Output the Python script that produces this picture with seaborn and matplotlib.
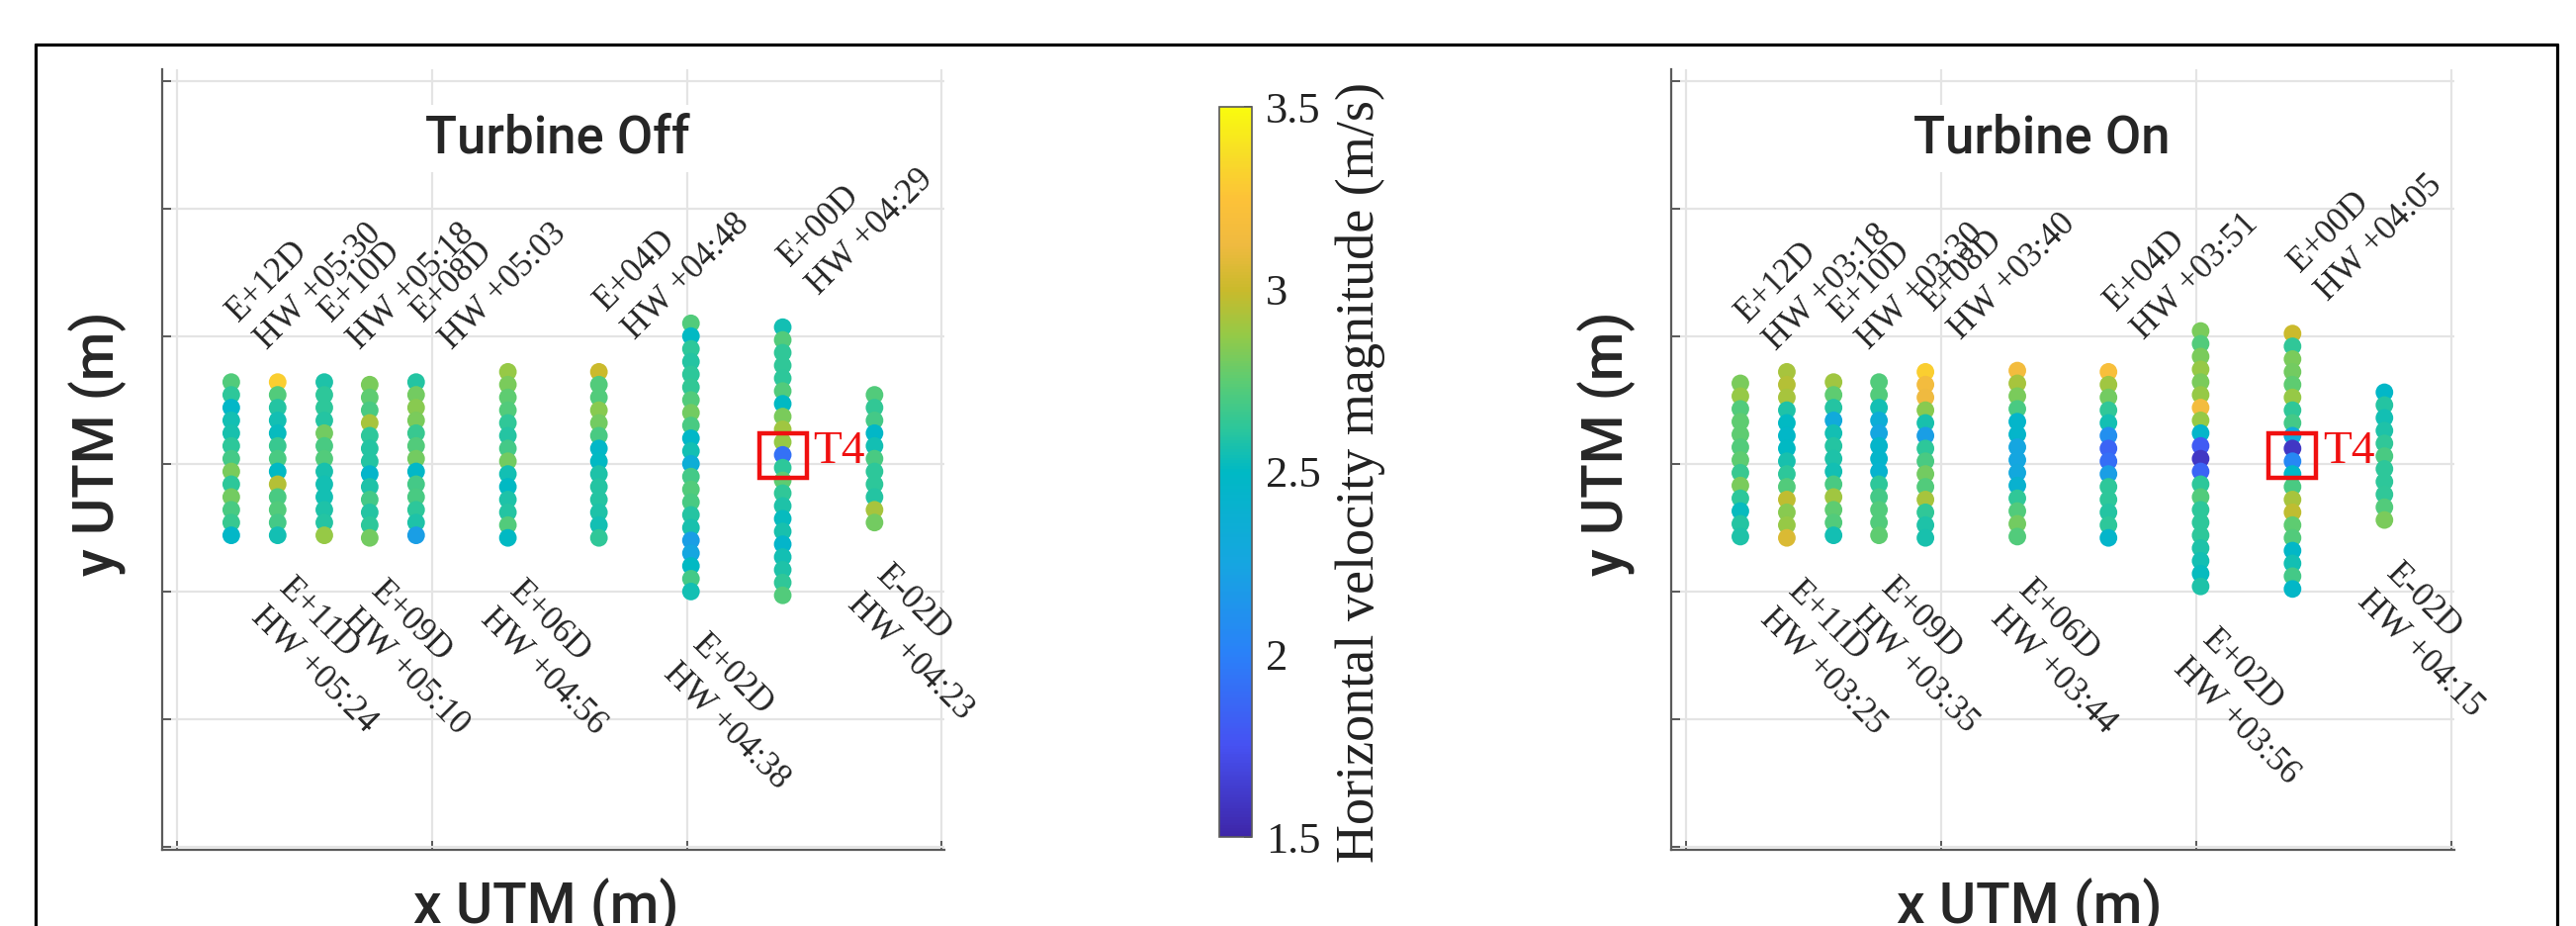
import numpy as np
import pandas as pd
import matplotlib
matplotlib.use("Agg")
import matplotlib.pyplot as plt
import seaborn as sns
from matplotlib.colors import LinearSegmentedColormap, Normalize
from matplotlib.cm import ScalarMappable
from matplotlib.lines import Line2D
from matplotlib.patches import Rectangle

# ---------------- data ----------------
transects = ["E+12D", "E+11D", "E+10D", "E+09D", "E+08D",
             "E+06D", "E+04D", "E+02D", "E+00D", "E-02D"]
x_utm = [21.3, 39.5, 57.8, 75.6, 93.8, 129.8, 165.5, 201.6, 237.6, 273.6]
label_above = [True, False, True, False, True, False, True, False, True, False]

off_times = ["HW +05:30", "HW +05:24", "HW +05:18", "HW +05:10", "HW +05:03",
             "HW +04:56", "HW +04:48", "HW +04:38", "HW +04:29", "HW +04:23"]
on_times = ["HW +03:18", "HW +03:25", "HW +03:30", "HW +03:35", "HW +03:40",
            "HW +03:44", "HW +03:51", "HW +03:56", "HW +04:05", "HW +04:15"]

# y UTM of each sample (top to bottom), turbine off
off_y = [
    [364, 354, 344, 334, 324, 314, 304, 294, 284, 274, 264, 254, 244],
    [364, 354, 344, 334, 324, 314, 304, 294, 284, 274, 264, 254, 244],
    [364, 354, 344, 334, 324, 314, 304, 294, 284, 274, 264, 254, 244],
    [362, 352, 342, 332, 322, 312, 302, 292, 282, 272, 262, 252, 242],
    [364, 354, 344, 334, 324, 314, 304, 294, 284, 274, 264, 254, 244],
    [372, 362, 352, 342, 332, 322, 312, 302, 292, 282, 272, 262, 252, 242],
    [372, 362, 352, 342, 332, 322, 312, 302, 292, 282, 272, 262, 252, 242],
    [410, 400, 390, 380, 370, 360, 350, 340, 330, 320, 310, 300, 290, 280, 270,
     260, 250, 240, 230, 220, 210, 200],
    [407, 397, 387, 377, 367, 357, 347, 337, 327, 317, 307, 297, 287, 277, 267,
     257, 247, 237, 227, 217, 207, 197],
    [354, 344, 334, 324, 314, 304, 294, 284, 274, 264, 254],
]
off_speed = [
    [2.72, 2.62, 2.47, 2.55, 2.57, 2.62, 2.68, 2.82, 2.62, 2.80, 2.70, 2.65, 2.48],
    [3.30, 2.72, 2.60, 2.55, 2.52, 2.65, 2.70, 2.50, 2.95, 2.70, 2.72, 2.68, 2.55],
    [2.58, 2.62, 2.62, 2.60, 2.80, 2.70, 2.72, 2.57, 2.55, 2.55, 2.58, 2.60, 2.88],
    [2.82, 2.75, 2.70, 2.92, 2.62, 2.60, 2.60, 2.45, 2.58, 2.68, 2.60, 2.62, 2.80],
    [2.60, 2.80, 2.85, 2.82, 2.65, 2.72, 2.80, 2.48, 2.68, 2.70, 2.62, 2.58, 2.20],
    [2.88, 2.82, 2.75, 2.72, 2.63, 2.60, 2.68, 2.80, 2.55, 2.50, 2.58, 2.60, 2.72, 2.50],
    [3.00, 2.72, 2.72, 2.85, 2.80, 2.70, 2.48, 2.50, 2.58, 2.60, 2.60, 2.58, 2.55, 2.63],
    [2.72, 2.50, 2.62, 2.60, 2.62, 2.64, 2.72, 2.80, 2.70, 2.48, 2.55, 2.35, 2.68, 2.72,
     2.70, 2.60, 2.57, 2.20, 2.25, 2.50, 2.68, 2.55],
    [2.55, 2.72, 2.63, 2.63, 2.62, 2.72, 2.50, 2.82, 2.90, 2.88, 1.92, 2.62, 2.75, 2.63,
     2.58, 2.52, 2.57, 2.45, 2.55, 2.58, 2.63, 2.72],
    [2.72, 2.64, 2.68, 2.48, 2.55, 2.70, 2.62, 2.62, 2.60, 2.92, 2.80],
]

# turbine on
on_y = [
    [363, 353, 343, 333, 323, 313, 303, 293, 283, 273, 263, 253, 243],
    [372, 362, 352, 342, 332, 322, 312, 302, 292, 282, 272, 262, 252, 242],
    [364, 354, 344, 334, 324, 314, 304, 294, 284, 274, 264, 254, 244],
    [364, 354, 344, 334, 324, 314, 304, 294, 284, 274, 264, 254, 244],
    [372, 362, 352, 342, 332, 322, 312, 302, 292, 282, 272, 262, 252, 242],
    [373, 363, 353, 343, 333, 323, 313, 303, 293, 283, 273, 263, 253, 243],
    [372, 362, 352, 342, 332, 322, 312, 302, 292, 282, 272, 262, 252, 242],
    [404, 394, 384, 374, 364, 354, 344, 334, 324, 314, 304, 294, 284, 274, 264,
     254, 244, 234, 224, 214, 204],
    [402, 392, 382, 372, 362, 352, 342, 332, 322, 312, 302, 292, 282, 272, 262,
     252, 242, 232, 222, 212, 202],
    [356, 346, 336, 326, 316, 306, 296, 286, 276, 266, 256],
]
on_speed = [
    [2.82, 2.88, 2.72, 2.75, 2.75, 2.72, 2.75, 2.65, 2.82, 2.62, 2.52, 2.60, 2.58],
    [2.92, 2.95, 2.92, 2.58, 2.50, 2.48, 2.50, 2.57, 2.62, 2.72, 2.97, 2.85, 2.88, 3.05],
    [2.90, 2.75, 2.60, 2.30, 2.55, 2.60, 2.58, 2.55, 2.70, 2.90, 2.75, 2.72, 2.55],
    [2.72, 2.72, 2.55, 2.35, 2.25, 2.45, 2.45, 2.42, 2.62, 2.68, 2.72, 2.72, 2.75],
    [3.30, 3.15, 3.12, 2.85, 2.57, 2.20, 2.62, 2.70, 2.80, 2.72, 2.92, 2.63, 2.58, 2.57],
    [3.15, 2.92, 2.82, 2.70, 2.45, 2.45, 2.25, 2.25, 2.28, 2.40, 2.63, 2.72, 2.80, 2.72],
    [3.20, 2.90, 2.80, 2.63, 2.55, 2.10, 1.85, 1.90, 2.20, 2.62, 2.62, 2.60, 2.62, 2.45],
    [2.82, 2.72, 2.82, 2.88, 2.82, 2.88, 3.15, 2.88, 2.45, 1.80, 1.60, 1.85, 2.62, 2.72,
     2.62, 2.62, 2.62, 2.58, 2.55, 2.52, 2.58],
    [3.00, 2.63, 2.82, 2.80, 2.75, 2.88, 2.63, 2.68, 2.30, 1.60, 2.05, 2.48, 2.70, 2.92,
     2.97, 2.75, 2.72, 2.48, 2.55, 2.68, 2.48],
    [2.47, 2.60, 2.55, 2.58, 2.63, 2.70, 2.62, 2.62, 2.63, 2.72, 2.82],
]

turbine_name = "T4"
turbine_x = 237.6
turbine_y = 306.5
turbine_box = (18.6, 35.0)

x_ticks = [0, 100, 200, 300]
y_ticks = [0, 100, 200, 300, 400, 500, 600]
cbar_ticks = [1.5, 2.0, 2.5, 3.0, 3.5]
cbar_ticklabels = ["1.5", "2", "2.5", "3", "3.5"]
vmin, vmax = 1.5, 3.5

# parula-like colormap
parula_pts = [
    (0.000, (0.243, 0.150, 0.660)),
    (0.125, (0.275, 0.320, 0.950)),
    (0.250, (0.165, 0.505, 0.975)),
    (0.375, (0.085, 0.650, 0.880)),
    (0.500, (0.000, 0.725, 0.770)),
    (0.5625, (0.180, 0.780, 0.600)),
    (0.625, (0.360, 0.800, 0.450)),
    (0.6875, (0.580, 0.790, 0.280)),
    (0.750, (0.790, 0.730, 0.170)),
    (0.8125, (0.940, 0.730, 0.250)),
    (0.875, (0.990, 0.760, 0.220)),
    (0.9375, (0.970, 0.870, 0.150)),
    (1.000, (0.976, 0.984, 0.055)),
]
parula = LinearSegmentedColormap.from_list("parula_like", parula_pts, N=256)
norm = Normalize(vmin, vmax)

# ---------------- figure ----------------
sns.set_style("white")
plt.rcParams['font.family'] = ['Roboto', 'Lato', 'DejaVu Sans']
SERIF = ['Liberation Serif', 'DejaVu Serif']
SANS_W = 'medium'

W, H = 2605, 936
fig = plt.figure(figsize=(W / 100, H / 100), dpi=100)
fig.patch.set_facecolor('white')

ax_off = fig.add_axes([164 / W, 1 - 859 / H, 791 / W, 789 / H])
ax_on = fig.add_axes([1690 / W, 1 - 859 / H, 792 / W, 789 / H])
cax = fig.add_axes([1233 / W, 1 - 846 / H, 33 / W, 738 / H])

# outer frame
frame_kw = dict(color='black', lw=2.3, transform=fig.transFigure, clip_on=False)
fl, fr, ft = 36 / W, 2586 / W, 1 - 45 / H
fig.add_artist(Line2D([fl, fl], [-0.1, ft], **frame_kw))
fig.add_artist(Line2D([fr, fr], [-0.1, ft], **frame_kw))
fig.add_artist(Line2D([fl, fr], [ft, ft], **frame_kw))


def draw_panel(ax, ys, speeds, times, title, title_x):
    rows = []
    for i, name in enumerate(transects):
        for y, v in zip(ys[i], speeds[i]):
            rows.append({"transect": name, "x": x_utm[i], "y": y, "v": v})
    df = pd.DataFrame(rows)
    sns.scatterplot(data=df, x="x", y="y", hue="v", palette=parula,
                    hue_norm=norm, s=165, linewidth=0, legend=False,
                    ax=ax, zorder=3)
    ax.set_xlim(-5.8, 301)
    ax.set_ylim(-2.3, 609)
    ax.set_xticks(x_ticks)
    ax.set_yticks(y_ticks)
    ax.set_xticklabels([])
    ax.set_yticklabels([])
    ax.grid(True, color='#e4e4e4', lw=1.6)
    ax.set_axisbelow(True)
    for s in ['top', 'right']:
        ax.spines[s].set_visible(False)
    for s in ['left', 'bottom']:
        ax.spines[s].set_color('#5a5a5a')
        ax.spines[s].set_linewidth(1.6)
    ax.tick_params(direction='in', length=6.5, width=1.4, colors='#5a5a5a',
                   left=True, bottom=True)
    ax.set_xlabel("x UTM (m)", fontsize=41, fontweight=SANS_W)
    ax.xaxis.set_label_coords(title_x - 0.015, -0.036)
    ax.set_ylabel("y UTM (m)", fontsize=41, fontweight=SANS_W)
    ax.yaxis.set_label_coords(-0.045, 0.52)
    ax.text(title_x, 0.911, title, transform=ax.transAxes, ha='center',
            va='center', fontsize=38, fontweight=SANS_W, zorder=4,
            bbox=dict(facecolor='white', edgecolor='none', pad=6))

    for i, name in enumerate(transects):
        txt = f"{name}\n{times[i]}"
        if label_above[i]:
            ax.annotate(txt, xy=(x_utm[i], max(ys[i])), xytext=(30, 19),
                        textcoords='offset points', rotation=45,
                        rotation_mode='anchor', ha='left', va='bottom',
                        fontsize=25, family=SERIF, linespacing=1.3)
        else:
            ax.annotate(txt, xy=(x_utm[i], min(ys[i])), xytext=(13, -27),
                        textcoords='offset points', rotation=-45,
                        rotation_mode='anchor', ha='left', va='top',
                        fontsize=25, family=SERIF, linespacing=1.3)

    bw, bh = turbine_box
    ax.add_patch(Rectangle((turbine_x - bw / 2, turbine_y - bh / 2), bw, bh,
                           fill=False, edgecolor='#f01010', lw=3.2, zorder=5))
    ax.text(turbine_x + 12, turbine_y - 5.7, turbine_name, color='#f01010',
            fontsize=34, family=SERIF, ha='left', va='baseline', zorder=5)


draw_panel(ax_off, off_y, off_speed, off_times, "Turbine Off", 0.506)
draw_panel(ax_on, on_y, on_speed, on_times, "Turbine On", 0.473)

# colorbar
sm = ScalarMappable(norm=norm, cmap=parula)
cbar = fig.colorbar(sm, cax=cax)
cbar.set_ticks(cbar_ticks)
cbar.set_ticklabels(cbar_ticklabels)
cbar.outline.set_edgecolor('#5a5a5a')
cbar.outline.set_linewidth(1.2)
cax.tick_params(direction='in', length=6, width=1.2, colors='#444444',
                labelsize=32, pad=10)
for lab in cax.get_yticklabels():
    lab.set_family(SERIF)
    lab.set_color('#222222')
cbar.set_label("Horizontal velocity magnitude (m/s)", fontsize=39,
               family=SERIF, color='#222222')
cax.yaxis.set_label_coords(3.55, 0.5)

fig.savefig("out.png", dpi=100, facecolor='white')
